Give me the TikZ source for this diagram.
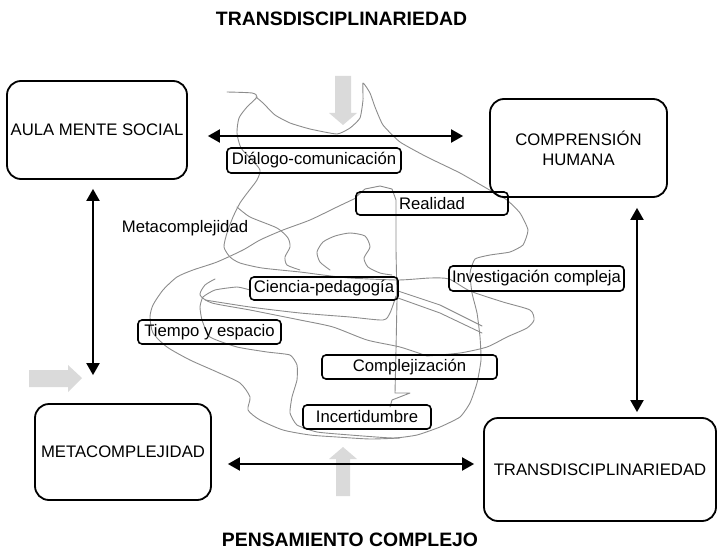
\documentclass[tikz,border=0pt]{standalone}
\usepackage{fontspec}
\setmainfont{Liberation Sans}
\usetikzlibrary{arrows.meta}
\definecolor{scribgray}{RGB}{140,140,140}
\definecolor{hintgray}{RGB}{218,218,218}
\newcommand\mylbl{\fontsize{16.7}{20}\selectfont}
\newcommand\mytitle{\fontsize{19.4}{22}\selectfont\bfseries}
\begin{document}
\begin{tikzpicture}[x=1pt,y=-1pt,
  mainbox/.style={draw, line width=1.8pt, rounded corners=14pt, align=center, font=\mylbl, inner sep=0pt},
  tagbox/.style={draw, line width=1.6pt, rounded corners=4pt, font=\mylbl, inner sep=0pt},
  link/.style={line width=2pt, {Triangle[length=12pt,width=13pt]}-{Triangle[length=12pt,width=13pt]}},
  scrib/.style={draw=scribgray, line width=0.9pt, line join=round, line cap=round},
  hint/.style={fill=hintgray, draw=none}]
\useasboundingbox (0,0) rectangle (717,559);

% freehand scribble in the middle
\draw[scrib] plot[smooth, tension=0.4] coordinates {(227,92) (252,93) (257,97) (247,107) (239,118) (237,133) (241,148) (252,160) (260,170) (257,180) (248,192) (240,203) (233,217) (227,233) (224,247) (230,257) (240,263) (262,268) (300,272) (323,275) (350,278) (398,280) (430,278) (449,279) (470,291) (503,302) (530,310) (534,320) (527,328) (507,337) (487,347) (460,353) (427,356)};
\draw[scrib] plot[smooth, tension=0.4] coordinates {(237,207) (250,217) (277,228) (288,238) (290,247) (285,257) (287,265) (300,270)};
\draw[scrib] plot[smooth, tension=0.3] coordinates {(256,97) (263,103) (275,115) (290,123) (310,129) (337,134) (350,128) (360,118) (363,100) (363,83) (370,93) (375,107) (383,125) (400,142) (427,157) (460,173) (493,192) (507,200) (520,213) (528,230) (523,245) (510,252) (490,255) (475,259) (470,273) (472,293) (477,313) (480,337) (481,360) (477,383) (470,403) (460,417) (440,427) (417,435) (393,438) (350,435) (317,432) (297,425) (290,413) (292,397) (297,380) (297,365) (290,355) (267,352) (237,347) (210,337) (202,320) (200,307) (203,297) (215,290) (237,287) (250,290)};
\draw[scrib] plot[smooth, tension=0.4] coordinates {(356,198) (337,207) (310,220) (283,230) (260,240) (243,250) (217,262) (193,270) (177,277) (163,290) (153,305) (150,317) (153,333) (167,347) (190,360) (217,372) (240,383) (250,397) (248,410) (260,420) (283,430) (310,435) (337,437) (370,439) (400,438)};
\draw[scrib] (356,197) -- (365,189) -- (380,186) -- (392,189) -- (396,200) -- (396,250) -- (397,300) -- (396,350) -- (395,393) -- (410,393) -- (392,400) -- (390,407);
\draw[scrib] plot[smooth, tension=0.4] coordinates {(330,270) (320,262) (317,252) (323,242) (335,236) (350,233) (365,236) (370,247) (364,258) (368,267) (380,273) (392,275)};
\draw[scrib] (398,291) -- (440,305) -- (482,326);
\draw[scrib] (398,298) -- (440,313) -- (482,333);
\draw[scrib] plot[smooth, tension=0.4] coordinates {(215,279) (205,285) (200,295) (212,303) (250,310) (300,320) (333,327) (367,340) (400,347) (427,356)};
\draw[scrib] plot[smooth, tension=0.4] coordinates {(205,300) (250,307) (300,313) (350,317) (383,320) (390,313) (396,296)};

% light grey hint arrows
\fill[hint] (335,76) -- (351,76) -- (351,113) -- (357,113) -- (343,125) -- (329,113) -- (335,113) -- cycle;
\fill[hint] (336,496) -- (350,496) -- (350,459) -- (357,459) -- (343,447) -- (329,459) -- (336,459) -- cycle;
\fill[hint] (29,370) -- (68,370) -- (68,365) -- (82,378) -- (68,392) -- (68,387) -- (29,387) -- cycle;

% titles
\node[font=\mytitle] (ttop) at (341.5,18.5) {TRANSDISCIPLINARIEDAD};
\node[font=\mytitle] (tbot) at (350,540) {PENSAMIENTO COMPLEJO};

% main boxes
\node[mainbox, minimum width=180pt, minimum height=98pt] (aula) at (97,130) {AULA MENTE SOCIAL};
\node[mainbox, minimum width=177pt, minimum height=98pt] (comp) at (578.5,148) {COMPRENSIÓN\\HUMANA};
\node[mainbox, minimum width=176pt, minimum height=96pt] (meta) at (123,452) {METACOMPLEJIDAD};
\node[mainbox, minimum width=232pt, minimum height=103pt] (trans) at (600,469.5) {TRANSDISCIPLINARIEDAD};

% tags
\node[tagbox, minimum width=174pt, minimum height=25pt] (dial) at (314,160.5) {Diálogo-comunicación};
\node[tagbox, minimum width=152pt, minimum height=23pt] (real) at (432,203.5) {Realidad};
\node[tagbox, minimum width=175pt, minimum height=25pt] (inv) at (536.5,278.5) {Investigación compleja};
\node[tagbox, minimum width=148pt, minimum height=23pt] (cien) at (324,288.5) {Ciencia-pedagogía};
\node[tagbox, minimum width=143pt, minimum height=24pt] (tiem) at (209.5,332) {Tiempo y espacio};
\node[tagbox, minimum width=175pt, minimum height=24pt] (cplx) at (409.5,367) {Complejización};
\node[tagbox, minimum width=128pt, minimum height=24pt] (inc) at (367,417) {Incertidumbre};
\node[font=\mylbl] (metalbl) at (185,228) {Metacomplejidad};

% connectors
\draw[link, shorten <=20pt, shorten >=26pt] ([yshift=-6pt]aula.east) -- ([yshift=-6pt]aula.east -| comp.west);
\draw[link, shorten <=16pt, shorten >=9pt] ([yshift=-12pt]meta.east) -- ([yshift=-12pt]meta.east -| trans.west);
\draw[link, shorten <=9pt, shorten >=28pt] ([xshift=-4pt]aula.south) -- ([xshift=-4pt]aula.south |- meta.north);
\draw[link, shorten <=10pt, shorten >=5pt] ([xshift=58.5pt]comp.south) -- ([xshift=58.5pt]comp.south |- trans.north);
\end{tikzpicture}
\end{document}
